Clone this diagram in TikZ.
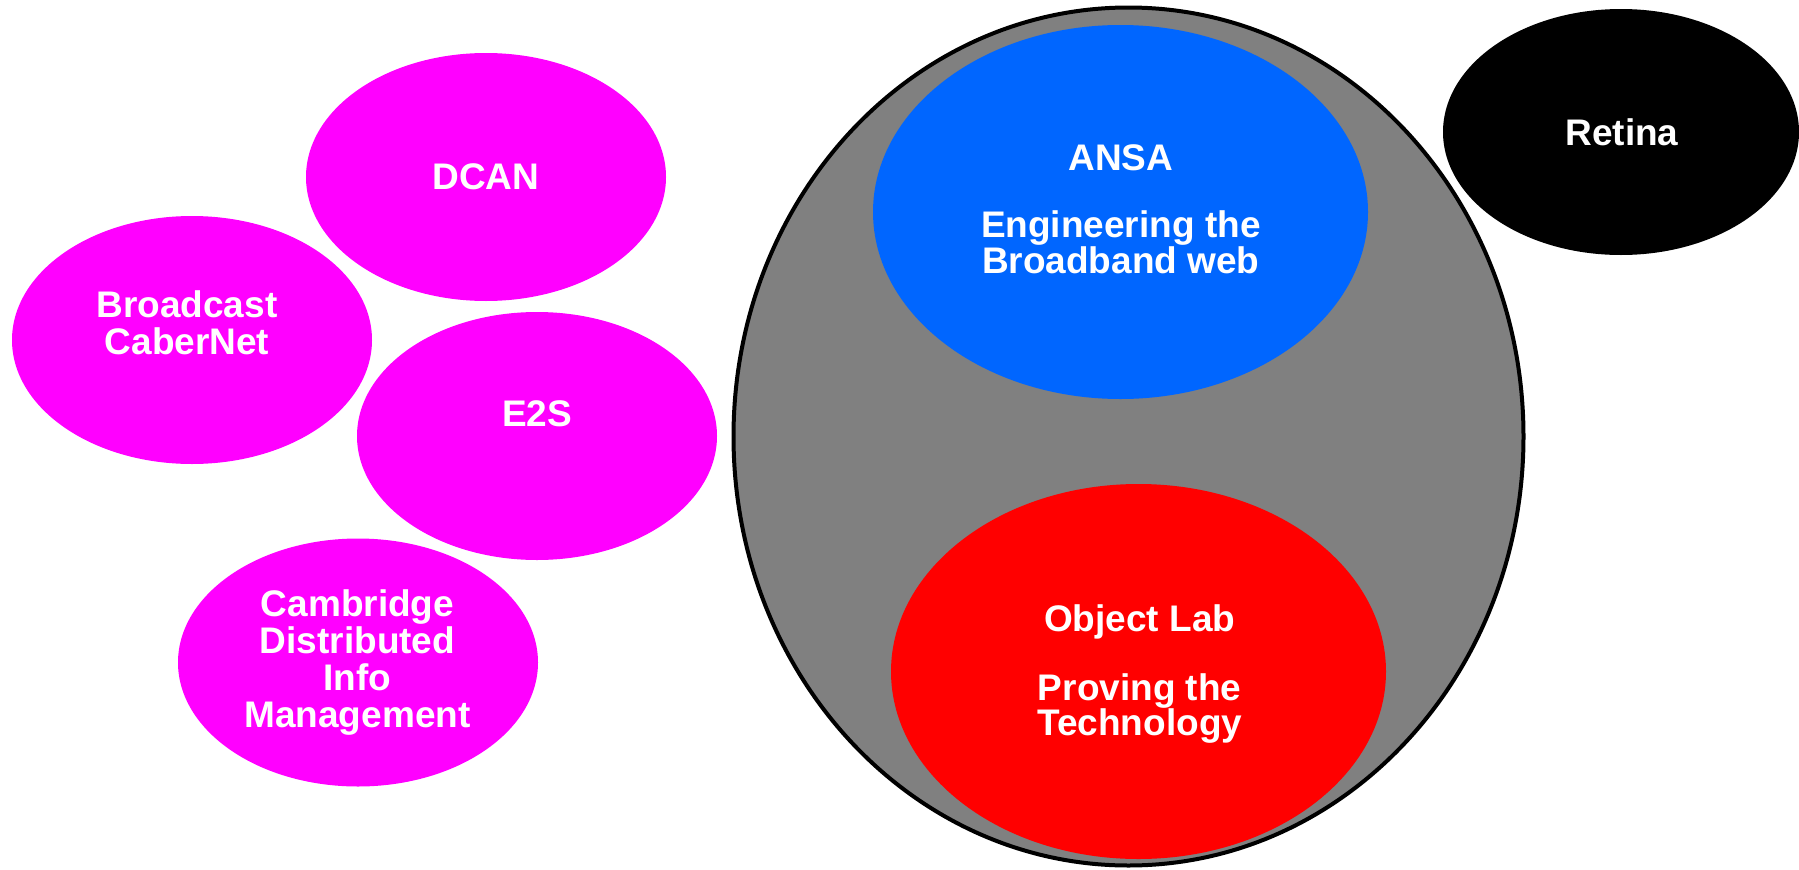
\documentclass[tikz,border=0pt]{standalone}
\usepackage{fontspec}
\setmainfont{Liberation Sans}
\usetikzlibrary{shapes.geometric}
\definecolor{pinkblob}{HTML}{FF00FF}
\definecolor{ansablue}{HTML}{0066FF}
\definecolor{labred}{HTML}{FF0000}
\definecolor{outergray}{HTML}{808080}
\tikzset{
  blob/.style={ellipse, inner sep=0pt, outer sep=0pt, draw=none},
  pink/.style={blob, fill=pinkblob, minimum width=360pt, minimum height=248pt},
  lbl/.style={text=white, align=center, inner sep=0pt, font=\bfseries\fontsize{37}{37}\selectfont},
  lbltight/.style={lbl, font=\bfseries\fontsize{37}{33.5}\selectfont}
}
\begin{document}
\begin{tikzpicture}[x=1pt,y=-1pt]
\useasboundingbox (0,0) rectangle (1799,870);
% magenta ellipses
\node[pink] (dcan) at (486,177) {};
\node[pink] (bcast) at (192,340) {};
\node[pink] (e2s) at (537,436) {};
\node[pink] (cdim) at (358,662.5) {};
% big gray ellipse
\node[blob, fill=outergray, draw=black, line width=4pt, minimum width=790pt, minimum height=858pt] (outer) at (1128.5,436.5) {};
\node[blob, fill=ansablue, minimum width=495pt, minimum height=374pt] (ansa) at (1120.5,212) {};
\node[blob, fill=labred, minimum width=495pt, minimum height=375pt] (olab) at (1138.5,671.5) {};
% Retina
\node[blob, fill=black, minimum width=356pt, minimum height=246pt] (retina) at (1621,132) {};
% labels
\node[lbl] (tdcan) at (486,177) {DCAN};
\node[lbl] (tbcast) at (187,323) {Broadcast\\CaberNet};
\node[lbl] (te2s) at (537,414) {E2S};
\node[lbl] (tcdim) at (357.5,663) {Cambridge\\Distributed\\Info\\Management};
\node[lbltight] (tansa) at (1120.8,209) {ANSA\\[33.5pt]Engineering the\\Broadband web};
\node[lbltight] (tolab) at (1139.7,674) {Object Lab\\[33.5pt]Proving the\\Technology};
\node[lbl] (tretina) at (1622,131.8) {Retina};
\end{tikzpicture}
\end{document}
